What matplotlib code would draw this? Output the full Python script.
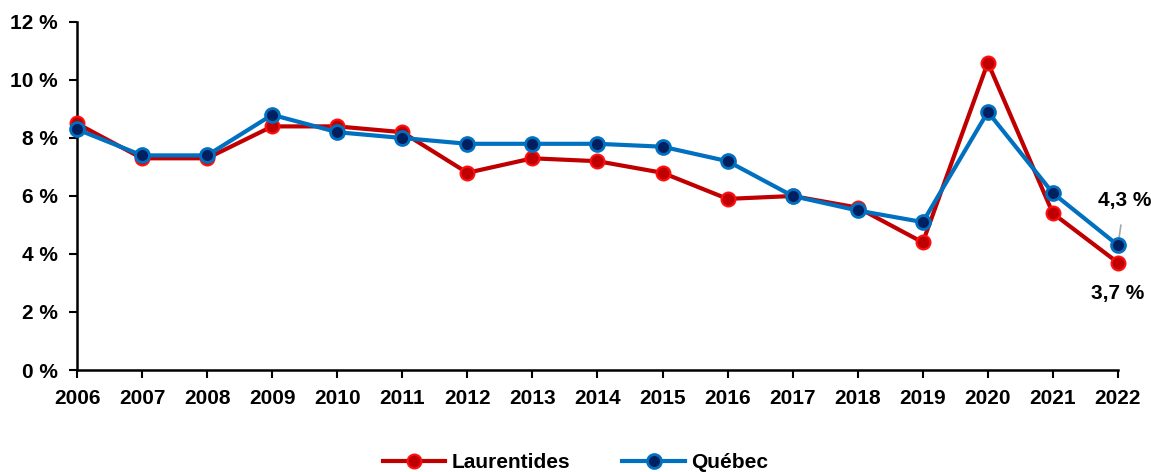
import matplotlib
matplotlib.use("Agg")
import matplotlib.pyplot as plt
from matplotlib.ticker import FuncFormatter

plt.rcParams["font.family"] = ["Liberation Sans", "DejaVu Sans"]
plt.rcParams["font.weight"] = "bold"

YEARS = list(range(2006, 2023))
LAURENTIDES = [8.5, 7.3, 7.3, 8.4, 8.4, 8.2, 6.8, 7.3, 7.2, 6.8, 5.9, 6.0, 5.6, 4.4, 10.6, 5.4, 3.7]
QUEBEC = [8.3, 7.4, 7.4, 8.8, 8.2, 8.0, 7.8, 7.8, 7.8, 7.7, 7.2, 6.0, 5.5, 5.1, 8.9, 6.1, 4.3]

RED_LINE, RED_FACE, RED_EDGE = "#C00000", "#C00000", "#FF1010"
BLUE_LINE, BLUE_FACE, BLUE_EDGE = "#0070C0", "#002060", "#0070C0"
FS = 15

fig = plt.figure(figsize=(11.51, 4.72), dpi=100)
ax = fig.add_axes([0.0669, 0.2161, 0.9044, 0.7373])

ax.plot(YEARS, LAURENTIDES, color=RED_LINE, lw=3, marker="o", ms=10,
        mfc=RED_FACE, mec=RED_EDGE, mew=1.5, label="Laurentides", clip_on=False, zorder=3)
ax.plot(YEARS, QUEBEC, color=BLUE_LINE, lw=3, marker="o", ms=10,
        mfc=BLUE_FACE, mec=BLUE_EDGE, mew=2, label="Québec", clip_on=False, zorder=4)

ax.set_xlim(YEARS[0], YEARS[-1])
ax.set_ylim(0, 12)
ax.set_xticks(YEARS)
ax.set_yticks(range(0, 13, 2))
ax.yaxis.set_major_formatter(FuncFormatter(lambda v, _: f"{int(v)} %"))
for s in ["top", "right"]:
    ax.spines[s].set_visible(False)
for s in ["left", "bottom"]:
    ax.spines[s].set_linewidth(1.8)
ax.tick_params(axis="both", direction="out", length=6, width=1.5, labelsize=FS)
ax.tick_params(axis="y", pad=8)
ax.tick_params(axis="x", pad=8)

# end labels
ax.annotate("4,3 %", xy=(YEARS[-1], QUEBEC[-1]), xytext=(YEARS[-1] + 0.1, 5.85),
            ha="center", va="center", fontsize=FS, fontweight="bold",
            arrowprops=dict(arrowstyle="-", color="#A6A6A6", lw=1.2,
                            shrinkA=9, shrinkB=0))
ax.annotate("3,7 %", xy=(YEARS[-1], LAURENTIDES[-1]), xytext=(YEARS[-1], 2.65),
            ha="center", va="center", fontsize=FS, fontweight="bold")

fig.legend(loc="lower center", bbox_to_anchor=(0.5, -0.04), ncol=2, frameon=False,
           fontsize=FS, handlelength=3.0, columnspacing=2.5, handletextpad=0.3)

fig.savefig("out.png", dpi=100)
